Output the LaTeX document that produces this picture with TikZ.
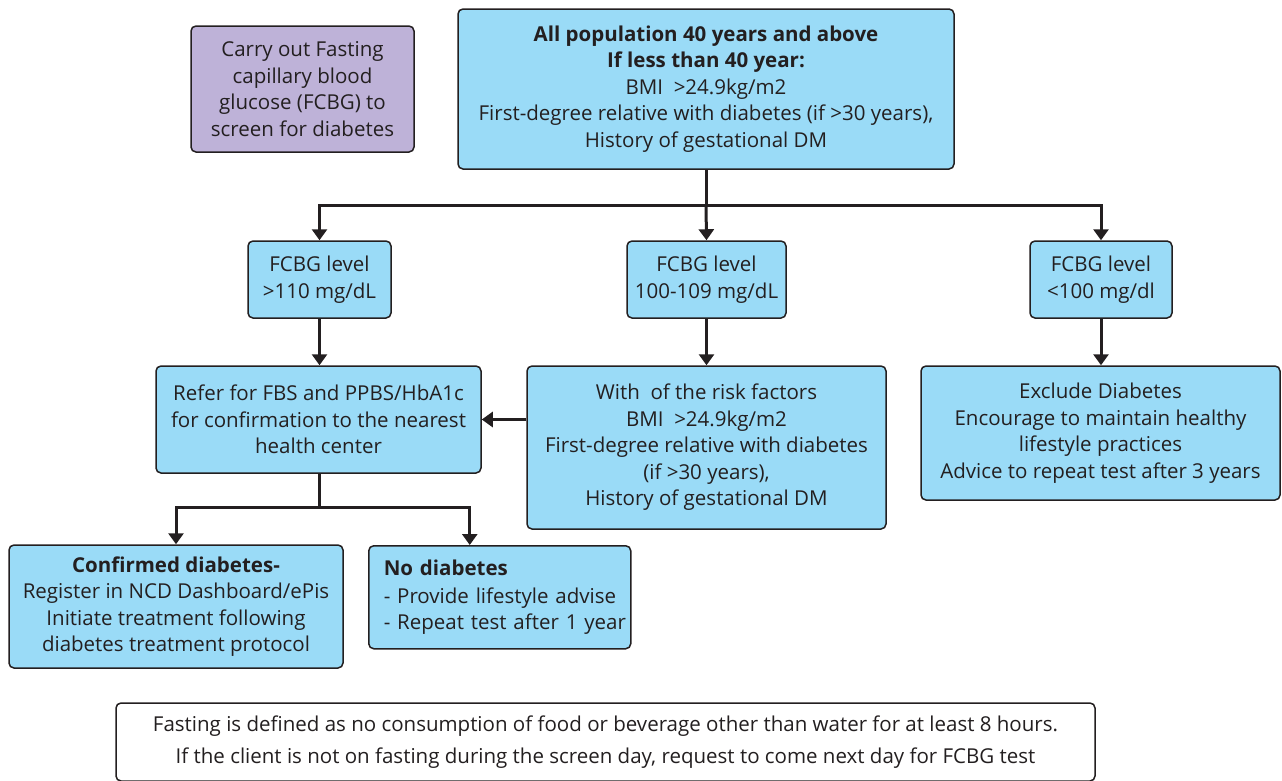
\documentclass[tikz,border=0pt]{standalone}
\usepackage{fontspec}
\setmainfont{Open Sans}
\usetikzlibrary{arrows.meta}
\definecolor{boxblue}{HTML}{9ADBF7}
\definecolor{boxpurple}{HTML}{BEB2D8}
\definecolor{ink}{HTML}{231F20}
\tikzset{
  box/.style={draw=ink, line width=1.5pt, rounded corners=5pt, fill=boxblue, text=ink, align=center, inner sep=0pt, font=\fontsize{20.5}{26.5}\selectfont},
  pbox/.style={box, fill=boxpurple},
  wbox/.style={box, fill=white, font=\fontsize{20.5}{32}\selectfont},
  conn/.style={draw=ink, line width=3pt},
  arr/.style={conn, -{Triangle[width=15pt,length=11pt]}},
}
\begin{document}
\begin{tikzpicture}[x=1pt,y=-1pt]
\useasboundingbox (0,0) rectangle (1282,780);
% nodes
\node[pbox, minimum width=223pt, minimum height=126pt] (fcbg) at (302.5,89) {Carry out Fasting\\capillary blood\\glucose (FCBG) to\\screen for diabetes};
\node[box, minimum width=496pt, minimum height=160pt] (pop) at (706,89) {\textbf{All population 40 years and above}\\\textbf{If less than 40 year:}\\BMI\ \ >24.9kg/m2\\First-degree relative with diabetes (if >30 years),\\History of gestational DM};
\node[box, minimum width=143pt, minimum height=77pt] (l1) at (319.5,279.5) {FCBG level\\>110 mg/dL};
\node[box, minimum width=159pt, minimum height=77pt] (l2) at (706.5,279.5) {FCBG level\\100-109 mg/dL};
\node[box, minimum width=142pt, minimum height=77pt] (l3) at (1101,279.5) {FCBG level\\<100 mg/dl};
\node[box, minimum width=325pt, minimum height=107pt] (refer) at (318.5,419.5) {Refer for FBS and PPBS/HbA1c\\for confirmation to the nearest\\health center};
\node[box, minimum width=359pt, minimum height=163pt] (risk) at (706.5,447.5) {With\ \ of the risk factors\\BMI\ \ >24.9kg/m2\\First-degree relative with diabetes\\(if >30 years),\\History of gestational DM};
\node[box, minimum width=359pt, minimum height=134pt] (excl) at (1100.5,433) {Exclude Diabetes\\Encourage to maintain healthy\\lifestyle practices\\Advice to repeat test after 3 years};
\node[box, minimum width=334pt, minimum height=123pt] (conf) at (176,606.5) {\textbf{Confirmed diabetes-}\\Register in NCD Dashboard/ePis\\Initiate treatment following\\diabetes treatment protocol};
\node[box, minimum width=262pt, minimum height=103pt, align=left, anchor=north west, text width=262pt] (nod) at (368,545) {\hspace*{15pt}\textbf{No diabetes}\\[1pt]\hspace*{15pt}- Provide lifestyle advise\\\hspace*{15pt}- Repeat test after 1 year};
\node[wbox, minimum width=979pt, minimum height=78pt] (note) at (605.5,742) {Fasting is defined as no consumption of food or beverage other than water for at least 8 hours.\\If the client is not on fasting during the screen day, request to come next day for FCBG test};
% connectors
\coordinate (j1) at (706,205);
\coordinate (j2) at (319.5,507);
\draw[conn] (pop.south) -- (j1);
\draw[arr] (j1) -| (l1.north);
\draw[arr] (j1) -- (l2.north);
\draw[arr] (j1) -| (l3.north);
\draw[arr] (l1.south) -- (refer.north -| l1.south);
\draw[arr] (l2.south) -- (risk.north -| l2.south);
\draw[arr] (l3.south) -- (excl.north -| l3.south);
\draw[arr] (risk.west |- refer.east) -- (refer.east);
\draw[conn] (refer.south -| j2) -- (j2);
\draw[arr] (j2) -| (conf.north);
\draw[arr] (j2) -| ([xshift=-30pt]nod.north);
\end{tikzpicture}
\end{document}
